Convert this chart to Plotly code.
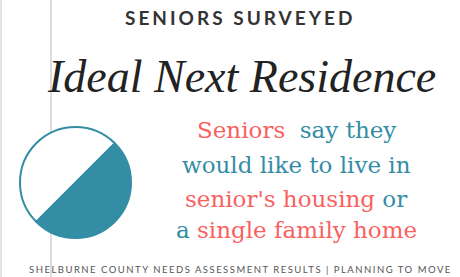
import plotly.graph_objects as go

# Data
slice_labels = ["Senior's housing or single family home", "Other"]
slice_values = [50, 50]
slice_colors = ["#338DA5", "#FFFFFF"]

title_top = "SENIORS SURVEYED"
title_main = "Ideal Next Residence"
footer_text = "SHELBURNE COUNTY NEEDS ASSESSMENT RESULTS | PLANNING TO MOVE"

TEAL = "#338DA5"
CORAL = "#F9615F"

W, H = 460, 277

fig = go.Figure()
fig.add_trace(go.Pie(
    labels=slice_labels,
    values=slice_values,
    marker=dict(colors=slice_colors, line=dict(color=TEAL, width=2)),
    direction="clockwise",
    rotation=45,
    sort=False,
    textinfo="none",
    hoverinfo="label+percent",
    showlegend=False,
    domain=dict(x=[20 / W, 131 / W], y=[1 - 240 / H, 1 - 125 / H]),
))

def px(x):
    return x / W

def py(y):
    return 1 - y / H

ann = []
ann.append(dict(
    text=f'<span style="letter-spacing:3px">{title_top}</span>',
    x=px(240), y=py(17.5), xref="paper", yref="paper",
    showarrow=False, xanchor="center", yanchor="middle",
    font=dict(family="Lato", size=19, color="#333333", weight="bold"),
))
ann.append(dict(
    text=f"<i>{title_main}</i>",
    x=px(242), y=py(76), xref="paper", yref="paper",
    showarrow=False, xanchor="center", yanchor="middle",
    font=dict(family="Liberation Serif", size=46, color="#222222"),
))

lines = [
    (f'<span style="color:{CORAL}">Seniors</span>  <span style="color:{TEAL}">say they</span>', 130),
    (f'<span style="color:{TEAL}">would like to live in</span>', 165),
    (f'<span style="color:{CORAL}">senior\'s housing</span><span style="color:{TEAL}"> or</span>', 199),
    (f'<span style="color:{TEAL}">a </span><span style="color:{CORAL}">single family home</span>', 230),
]
for txt, yc in lines:
    ann.append(dict(
        text=txt, x=px(296), y=py(yc), xref="paper", yref="paper",
        showarrow=False, xanchor="center", yanchor="middle",
        font=dict(family="DejaVu Serif", size=23, color=TEAL),
    ))

ann.append(dict(
    text=f'<span style="letter-spacing:1.5px">{footer_text}</span>',
    x=px(240), y=py(269.5), xref="paper", yref="paper",
    showarrow=False, xanchor="center", yanchor="middle",
    font=dict(family="Lato", size=9.5, color="#555555"),
))

shapes = [
    dict(type="line", xref="paper", yref="paper", x0=px(51), x1=px(51), y0=0, y1=1,
         line=dict(color="#DDDDDD", width=2), layer="below"),
    dict(type="rect", xref="paper", yref="paper", x0=0, x1=px(2), y0=0, y1=1,
         fillcolor="#E4E4E4", line=dict(width=0), layer="below"),
]

fig.update_layout(
    width=W, height=H,
    margin=dict(l=0, r=0, t=0, b=0),
    paper_bgcolor="white", plot_bgcolor="white",
    annotations=ann, shapes=shapes,
)

fig.write_html("out.html", config={"displayModeBar": False},
               post_script="document.body.style.margin='0';")
